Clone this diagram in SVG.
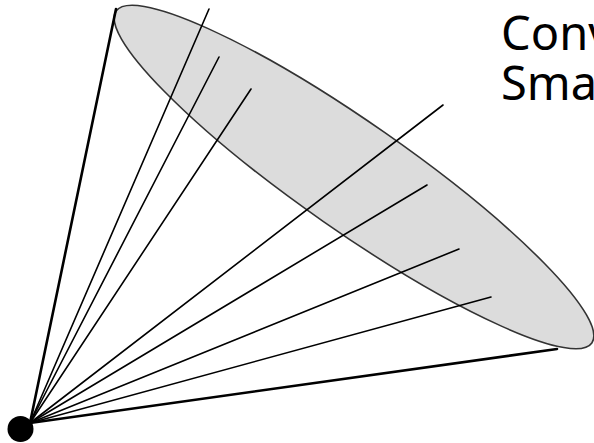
<svg xmlns="http://www.w3.org/2000/svg" width="594" height="443" viewBox="0 0 594 443">
<style>
.ell{fill:#dcdcdc;stroke:#333;stroke-width:1.6}
.ray{stroke:#000;stroke-width:1.6;fill:none;stroke-linecap:round}
.outer{stroke-width:2.6}
.lbl{font-family:"Noto Sans",sans-serif;font-size:47px;fill:#000}
</style>
<rect width="594" height="443" fill="#fff"/>
<g id="set">
<ellipse class="ell" cx="354" cy="177" rx="290" ry="54" transform="rotate(34.9 354 177)"/>
</g>
<g id="connectors">
<line class="ray outer" x1="30" y1="423" x2="116" y2="9"/>
<line class="ray" x1="30" y1="423" x2="209" y2="9"/>
<line class="ray" x1="30" y1="423" x2="219" y2="57"/>
<line class="ray" x1="30" y1="423" x2="251" y2="89"/>
<line class="ray" x1="30" y1="423" x2="443" y2="105"/>
<line class="ray" x1="30" y1="423" x2="427" y2="185"/>
<line class="ray" x1="30" y1="423" x2="459" y2="249"/>
<line class="ray" x1="30" y1="423" x2="491" y2="297"/>
<line class="ray outer" x1="30" y1="423" x2="557" y2="349"/>
</g>
<g id="point">
<circle cx="20.5" cy="429" r="13" fill="#000"/>
</g>
<g id="label">
<text class="lbl" x="501" y="50">Conv</text>
<text class="lbl" x="501" y="100">Sma</text>
</g>
</svg>
